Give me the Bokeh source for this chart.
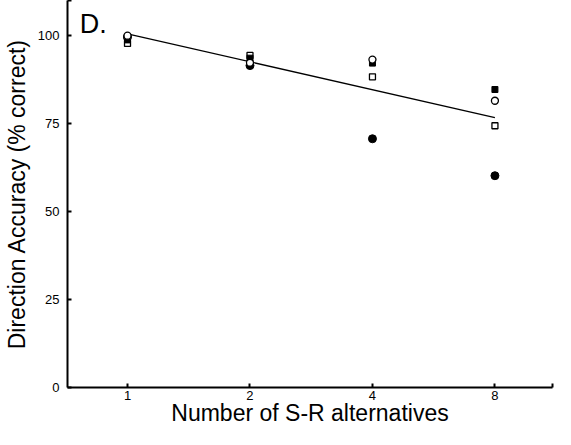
from bokeh.plotting import figure
from bokeh.models import FixedTicker, Label
from bokeh.embed import file_html
from bokeh.resources import INLINE
import math

# Data
alternatives = [1, 2, 4, 8]
tick_labels = {0: "1", 1: "2", 2: "4", 3: "8"}
open_circle = [100.0, 92.3, 93.2, 81.5]
filled_circle = [99.6, 91.5, 70.7, 60.2]
open_square = [97.8, 94.4, 88.3, 74.4]
filled_square = [98.8, 93.6, 92.2, 84.7]
fit_x = [1, 8]
fit_y = [100.5, 76.7]

xs = [math.log2(a) for a in alternatives]
fxs = [math.log2(a) for a in fit_x]

FONT = "Liberation Sans"

p = figure(width=555, height=429, output_backend="svg", toolbar_location=None,
           x_range=(-0.49, 3.47), y_range=(0, 110),
           min_border_left=65, min_border_right=3, min_border_top=0, min_border_bottom=42)
p.outline_line_color = None
p.grid.visible = False
p.background_fill_color = "white"

p.line(fxs, fit_y, line_color="black", line_width=1.3)
p.scatter(xs, open_square, marker="square", size=6, fill_color="white", line_color="black", line_width=1.3)
p.scatter(xs, filled_square, marker="square", size=6, fill_color="black", line_color="black")
p.scatter(xs, filled_circle, marker="circle", size=8, fill_color="black", line_color="black")
p.scatter(xs, open_circle, marker="circle", size=7, fill_color="white", line_color="black", line_width=1.3)

# Axes
p.xaxis.ticker = FixedTicker(ticks=[0, 1, 2, 3, 3.47])
p.xaxis.major_label_overrides = {**tick_labels, 3.47: ""}
p.yaxis.ticker = FixedTicker(ticks=[0, 25, 50, 75, 100, 110])
p.yaxis.major_label_overrides = {110: ""}
for ax in (p.xaxis[0], p.yaxis[0]):
    ax.axis_line_width = 2
    ax.axis_line_color = "black"
    ax.major_tick_in = 4
    ax.major_tick_out = 0
    ax.major_tick_line_width = 2
    ax.minor_tick_line_color = None
    ax.major_label_text_font = FONT
    ax.major_label_text_font_size = "13px"
    ax.major_label_text_color = "black"
    ax.axis_label_text_font = FONT
    ax.axis_label_text_font_size = "23px"
    ax.axis_label_text_font_style = "normal"
    ax.axis_label_text_color = "black"
p.xaxis.axis_label = "Number of S-R alternatives"
p.yaxis.axis_label = "Direction Accuracy (% correct)"
p.xaxis.major_label_standoff = 3
p.xaxis.axis_label_standoff = -3
p.yaxis.major_label_standoff = 8
p.yaxis.axis_label_standoff = 5

p.add_layout(Label(x=-0.39, y=107.5, text="D.", text_font=FONT, text_font_size="27px",
                   text_color="black", text_baseline="top"))

open("out.html", "w").write(file_html(p, INLINE))
